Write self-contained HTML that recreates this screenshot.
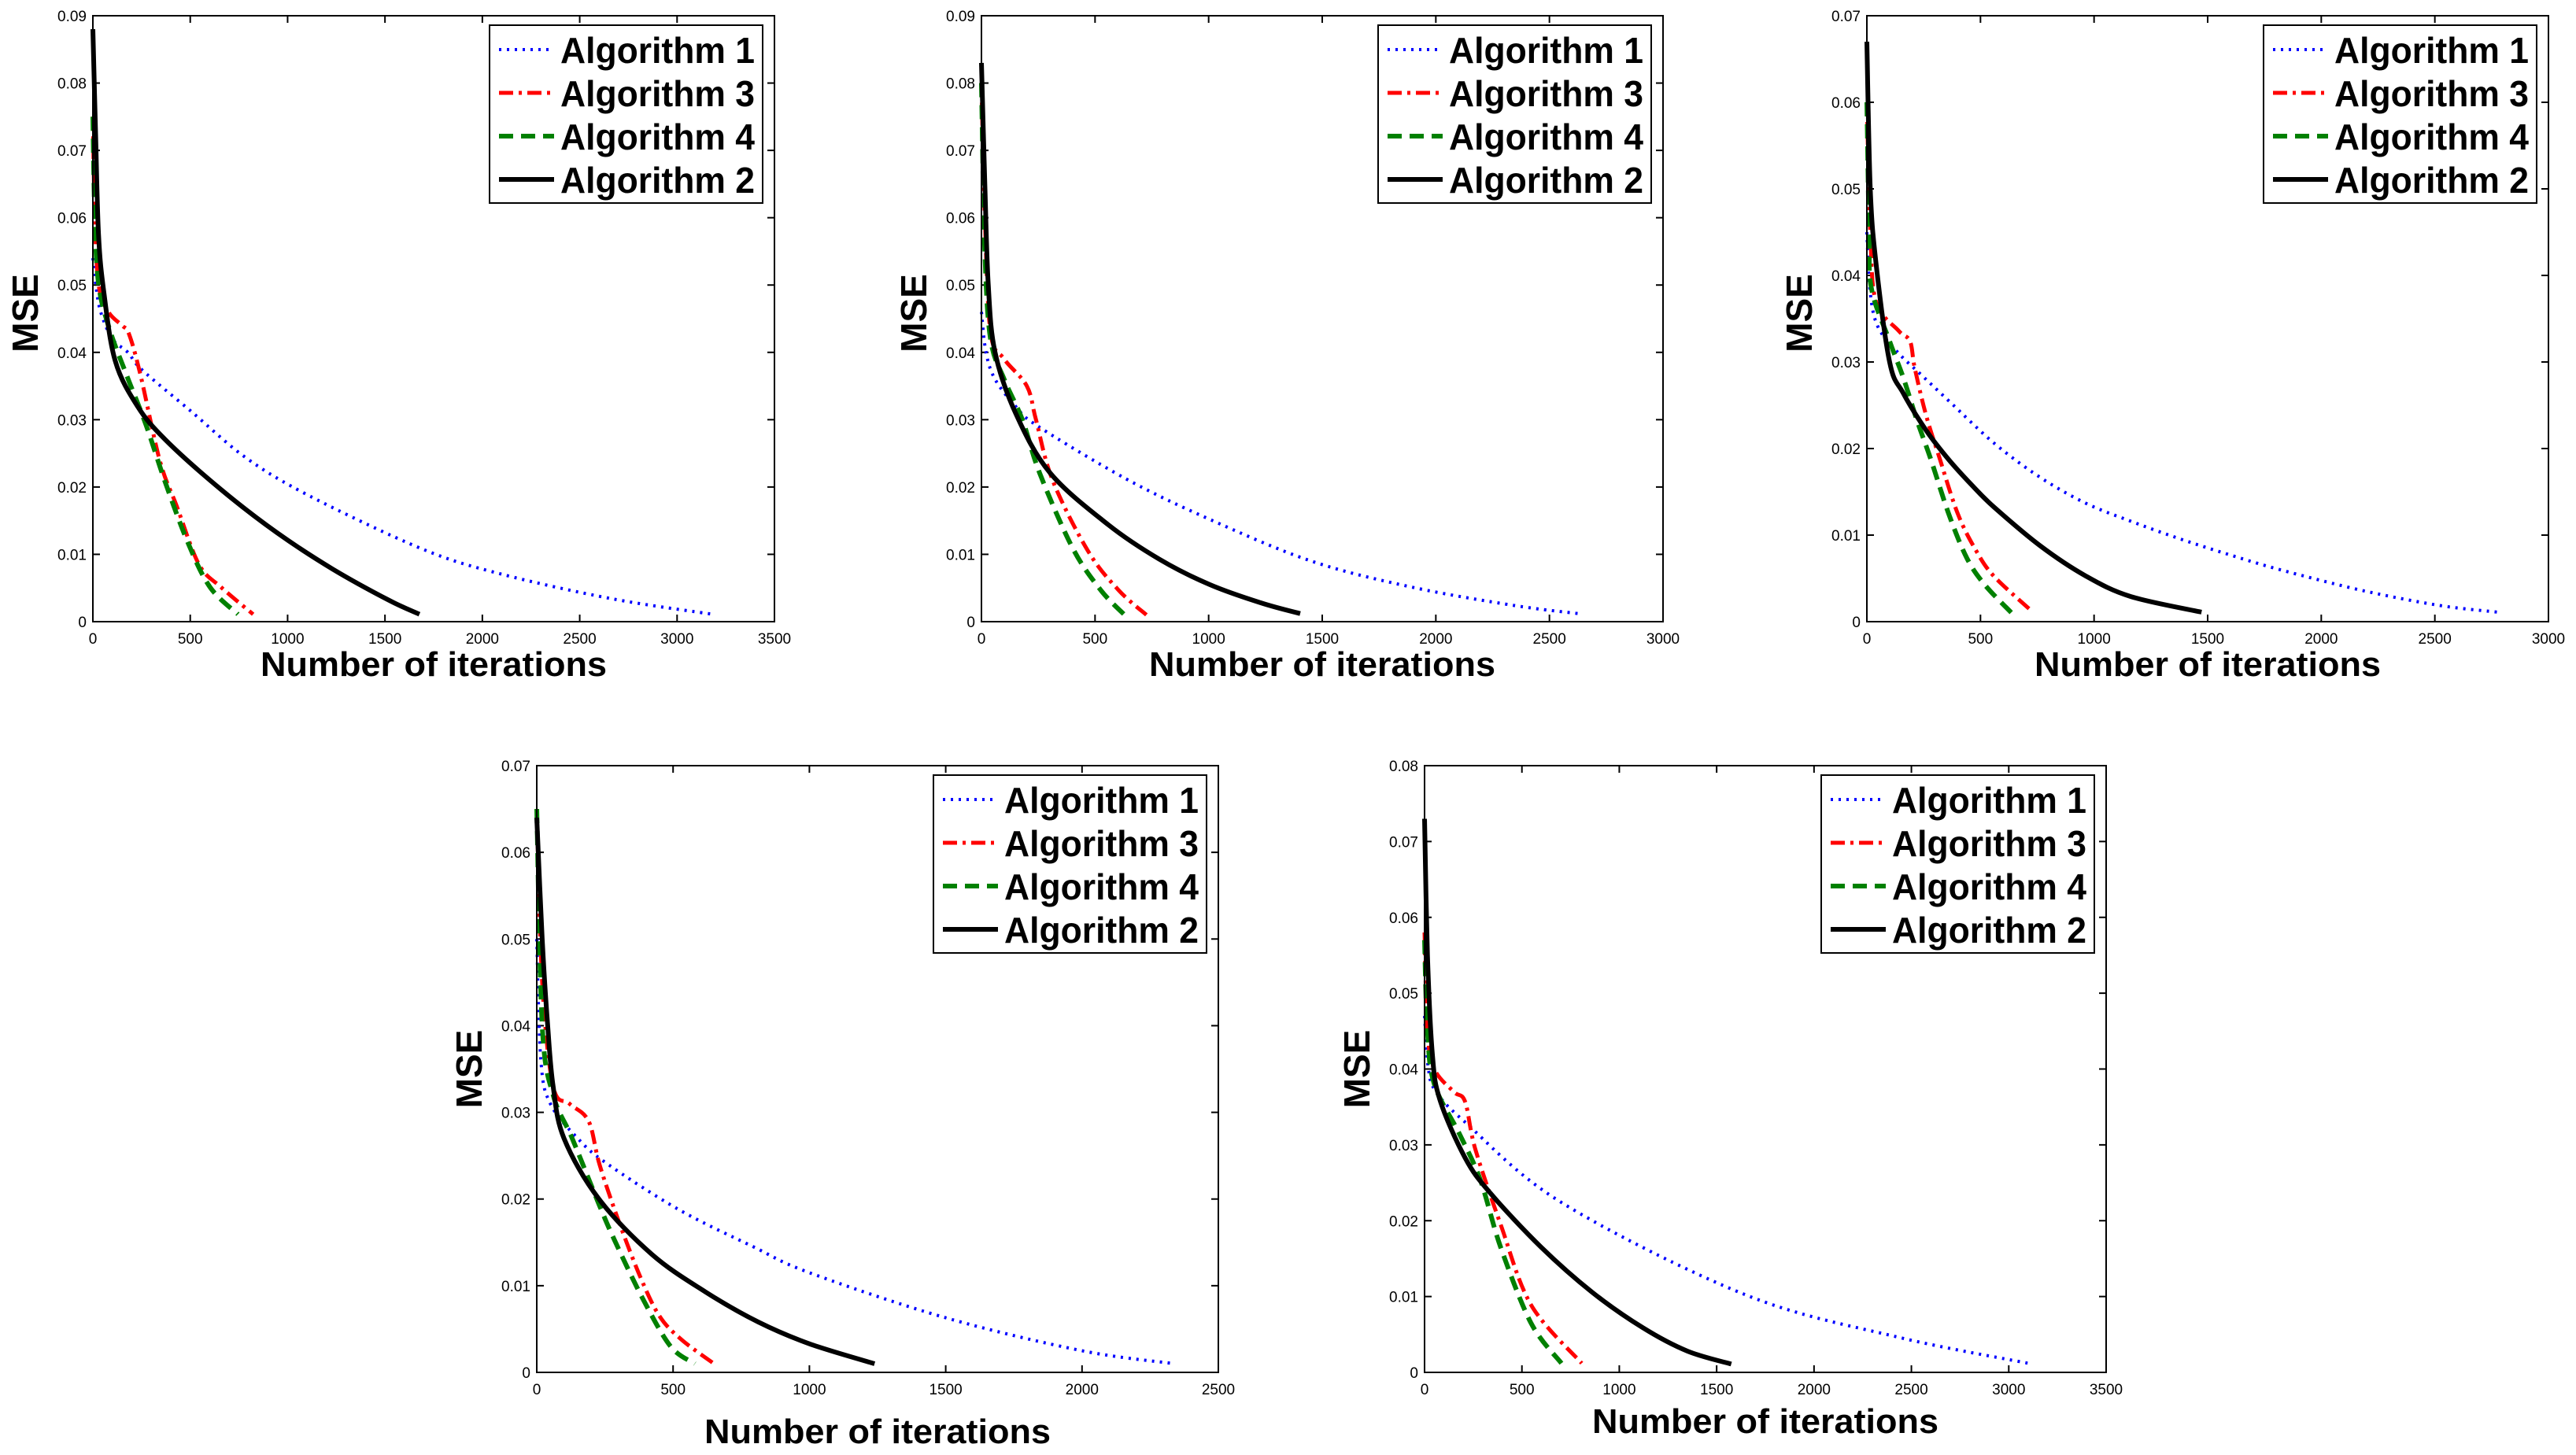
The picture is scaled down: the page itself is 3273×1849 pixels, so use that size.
<!DOCTYPE html>
<html><head><meta charset="utf-8"><style>
html,body{margin:0;padding:0;background:#fff;}
svg{display:block;}
</style></head><body>
<svg id="fig" width="3273" height="1849" viewBox="0 0 3273 1849" xmlns="http://www.w3.org/2000/svg"></svg>
<script>
// ---------- data ----------
const seriesNames = ["Algorithm 1","Algorithm 3","Algorithm 4","Algorithm 2"];
const xMaxes = [3500, 3000, 3000, 2500, 3500];
const yMaxes = [0.09, 0.09, 0.07, 0.07, 0.08];
const xSteps = [500, 500, 500, 500, 500];
const ySteps = [0.01, 0.01, 0.01, 0.01, 0.01];

// Plot 1
const p1a1x=[0,15,40,100,180,252,502,788,1118,1691,2093,2666,3182];
const p1a1y=[0.054,0.05,0.046,0.042,0.040,0.0374,0.0313,0.0243,0.0186,0.0108,0.0071,0.0034,0.0011];
const p1a3x=[0,10,30,80,150,186,244,344,430,545,659,823];
const p1a3y=[0.075,0.06,0.05,0.046,0.044,0.0427,0.0367,0.0239,0.0172,0.0085,0.0051,0.0011];
const p1a4x=[0,10,30,86,172,272,373,487,602,745];
const p1a4y=[0.075,0.06,0.05,0.0434,0.0367,0.0293,0.0206,0.0118,0.0051,0.0011];
const p1a2x=[0,14,29,57,115,229,373,659,946,1232,1519,1677];
const p1a2y=[0.088,0.0723,0.0575,0.0488,0.0387,0.032,0.027,0.0196,0.0132,0.0078,0.0032,0.0011];
// Plot 2
const p2a1x=[0,20,60,150,250,637,1005,1452,1899,2346,2625];
const p2a1y=[0.046,0.04,0.036,0.032,0.029,0.0212,0.0152,0.009,0.0051,0.0024,0.0012];
const p2a3x=[0,15,40,100,200,240,313,469,603,726];
const p2a3y=[0.08,0.06,0.043,0.039,0.035,0.03,0.021,0.0105,0.0047,0.001];
const p2a4x=[0,15,40,100,180,257,402,525,630];
const p2a4y=[0.08,0.055,0.042,0.036,0.03,0.022,0.0109,0.0047,0.001];
const p2a2x=[0,15,30,60,150,302,558,782,1005,1229,1403];
const p2a2y=[0.083,0.065,0.05,0.04,0.031,0.0221,0.0144,0.0093,0.0055,0.0028,0.0012];
// Plot 3
const p3a1x=[0,15,50,140,240,361,561,761,962,1162,1363,1563,1764,1964,2164,2365,2565,2776];
const p3a1y=[0.045,0.038,0.034,0.031,0.0285,0.0255,0.0206,0.0167,0.0137,0.0116,0.0097,0.008,0.0064,0.005,0.0037,0.0026,0.0017,0.0011];
const p3a3x=[0,15,40,140,190,210,260,321,401,481,561,731];
const p3a3y=[0.06,0.045,0.037,0.0336,0.0324,0.0294,0.0239,0.0188,0.0124,0.0082,0.0052,0.0011];
const p3a4x=[0,10,20,100,160,220,281,361,441,521,641];
const p3a4y=[0.06,0.045,0.0385,0.0324,0.0282,0.0233,0.0188,0.0124,0.0073,0.0042,0.0009];
const p3a2x=[0,15,40,100,160,261,361,461,561,761,962,1162,1473];
const p3a2y=[0.067,0.05,0.0415,0.030,0.0264,0.0221,0.0187,0.0158,0.0132,0.0088,0.0053,0.0029,0.0011];
// Plot 4
const p4a1x=[0,15,50,150,257,520,794,1000,1500,2000,2340];
const p4a1y=[0.05,0.036,0.031,0.027,0.0241,0.0188,0.0145,0.0115,0.0063,0.0025,0.001];
const p4a3x=[0,20,60,120,190,230,300,380,450,530,650];
const p4a3y=[0.065,0.045,0.033,0.031,0.029,0.024,0.0175,0.011,0.0065,0.0038,0.001];
const p4a4x=[0,20,60,130,228,286,389,491,580];
const p4a4y=[0.065,0.04,0.032,0.027,0.0194,0.0152,0.0085,0.003,0.001];
const p4a2x=[0,20,40,60,100,228,423,618,813,1000,1239];
const p4a2y=[0.064,0.05,0.04,0.033,0.027,0.02,0.0136,0.0093,0.0058,0.0033,0.001];
// Plot 5
const p5a1x=[0,20,60,208,703,1641,2422,3099];
const p5a1y=[0.047,0.04,0.037,0.033,0.0224,0.0103,0.0047,0.0012];
const p5a3x=[0,15,50,150,208,260,391,547,807];
const p5a3y=[0.058,0.045,0.04,0.037,0.0357,0.0295,0.0195,0.0089,0.0012];
const p5a4x=[0,15,50,182,286,391,547,703];
const p5a4y=[0.057,0.045,0.038,0.0313,0.0254,0.0165,0.0065,0.0012];
const p5a2x=[0,15,40,78,208,339,599,859,1120,1350,1575];
const p5a2y=[0.073,0.055,0.042,0.036,0.0283,0.0236,0.0165,0.0106,0.0059,0.0028,0.0011];

const plotData = [
  [[p1a1x,p1a1y],[p1a3x,p1a3y],[p1a4x,p1a4y],[p1a2x,p1a2y]],
  [[p2a1x,p2a1y],[p2a3x,p2a3y],[p2a4x,p2a4y],[p2a2x,p2a2y]],
  [[p3a1x,p3a1y],[p3a3x,p3a3y],[p3a4x,p3a4y],[p3a2x,p3a2y]],
  [[p4a1x,p4a1y],[p4a3x,p4a3y],[p4a4x,p4a4y],[p4a2x,p4a2y]],
  [[p5a1x,p5a1y],[p5a3x,p5a3y],[p5a4x,p5a4y],[p5a2x,p5a2y]]
];

// ---------- layout ----------
const boxes = [
  {l:118,t:20,w:866,h:770,title:843},
  {l:1247,t:20,w:866,h:770,title:843},
  {l:2372,t:20,w:866,h:770,title:843},
  {l:682,t:973,w:866,h:771,title:1818},
  {l:1810,t:973,w:866,h:771,title:1805}
];
const styles = [
  {c:"#0000ff",w:4,d:"3,7"},
  {c:"#ff0000",w:5,d:"18,7,4,7"},
  {c:"#008000",w:6,d:"18,10"},
  {c:"#000000",w:6,d:""}
];
const NS="http://www.w3.org/2000/svg";
const fig=document.getElementById('fig');
function mk(tag,attrs,parent){const e=document.createElementNS(NS,tag);for(const k in attrs)e.setAttribute(k,attrs[k]);(parent||fig).appendChild(e);return e;}
const FONT='"Liberation Sans", Arial, sans-serif';

function smoothPath(P){
  let d='M'+P[0][0].toFixed(1)+','+P[0][1].toFixed(1);
  for(let i=0;i<P.length-1;i++){
    const p0=P[i-1]||P[i],p1=P[i],p2=P[i+1],p3=P[i+2]||P[i+1];
    const c1x=p1[0]+(p2[0]-p0[0])/6,c1y=p1[1]+(p2[1]-p0[1])/6;
    const c2x=p2[0]-(p3[0]-p1[0])/6,c2y=p2[1]-(p3[1]-p1[1])/6;
    d+=' C'+c1x.toFixed(1)+','+c1y.toFixed(1)+' '+c2x.toFixed(1)+','+c2y.toFixed(1)+' '+p2[0].toFixed(1)+','+p2[1].toFixed(1);
  }
  return d;
}

boxes.forEach((b,pi)=>{
  const g=mk('g',{});
  
  
  const xMax=xMaxes[pi], yMax=yMaxes[pi];
  const X=v=>b.l+v/xMax*b.w;
  const Y=v=>b.t+b.h-v/yMax*b.h;
  const nx=Math.round(xMax/xSteps[pi]);
  for(let i=0;i<=nx;i++){
    const v=i*xSteps[pi], x=X(v);
    if(i>0&&i<nx){
      mk('line',{x1:x,y1:b.t+b.h,x2:x,y2:b.t+b.h-9,stroke:'#000','stroke-width':2},g);
      mk('line',{x1:x,y1:b.t,x2:x,y2:b.t+9,stroke:'#000','stroke-width':2},g);
    }
    const t=mk('text',{x:x,y:b.t+b.h+28,'text-anchor':'middle','font-family':FONT,'font-size':19},g);
    
    
    t.textContent=String(v);
  }
  const ny=Math.round(yMax/ySteps[pi]);
  for(let i=0;i<=ny;i++){
    const v=i*ySteps[pi], y=Y(v);
    if(i>0&&i<ny){
      mk('line',{x1:b.l,y1:y,x2:b.l+9,y2:y,stroke:'#000','stroke-width':2},g);
      mk('line',{x1:b.l+b.w,y1:y,x2:b.l+b.w-9,y2:y,stroke:'#000','stroke-width':2},g);
    }
    const t=mk('text',{x:b.l-8,y:y+7,'text-anchor':'end','font-family':FONT,'font-size':19},g);
    
    
    t.textContent=i===0?'0':v.toFixed(2);
  }
  plotData[pi].forEach((s,si)=>{
    const P=s[0].map((xv,k)=>[X(xv),Y(s[1][k])]);
    const st=styles[si];
    const pl=mk('path',{d:smoothPath(P),fill:'none',stroke:st.c,'stroke-width':st.w,'stroke-dasharray':st.d,'stroke-linejoin':'round'},g);
    
    
  });
  const ax=mk('rect',{x:b.l,y:b.t,width:b.w,height:b.h,fill:'none',stroke:'#000','stroke-width':2},g);
  
  
  const lg=mk('g',{},g);
  
  
  const lx=b.l+b.w-362, ly=b.t+12;
  mk('rect',{x:lx,y:ly,width:347,height:226,fill:'#fff',stroke:'#000','stroke-width':2},lg);
  seriesNames.forEach((nm,si)=>{
    const cy=ly+31+si*55;
    const st=styles[si];
    const e=mk('g',{},lg);
    
    
    mk('line',{x1:lx+12,y1:cy,x2:lx+82,y2:cy,stroke:st.c,'stroke-width':st.w,'stroke-dasharray':st.d},e);
    const t=mk('text',{x:lx+90,y:cy+17,'font-family':FONT,'font-size':46,'font-weight':'bold',textLength:247,lengthAdjust:'spacingAndGlyphs'},e);
    t.textContent=nm;
  });
  const xt=mk('text',{x:b.l+b.w/2,y:b.title+16,'text-anchor':'middle','font-family':FONT,'font-size':44,'font-weight':'bold',textLength:440,lengthAdjust:'spacingAndGlyphs'},g);
  
  
  xt.textContent='Number of iterations';
  const cy=b.t+b.h/2+(pi<3?-7:0), cx=b.l-86;
  const yt=mk('text',{x:cx,y:cy,'text-anchor':'middle','font-family':FONT,'font-size':46,'font-weight':'bold',transform:`rotate(-90 ${cx} ${cy}) translate(0 16)`},g);
  
  
  yt.textContent='MSE';
});
</script>
</body></html>
